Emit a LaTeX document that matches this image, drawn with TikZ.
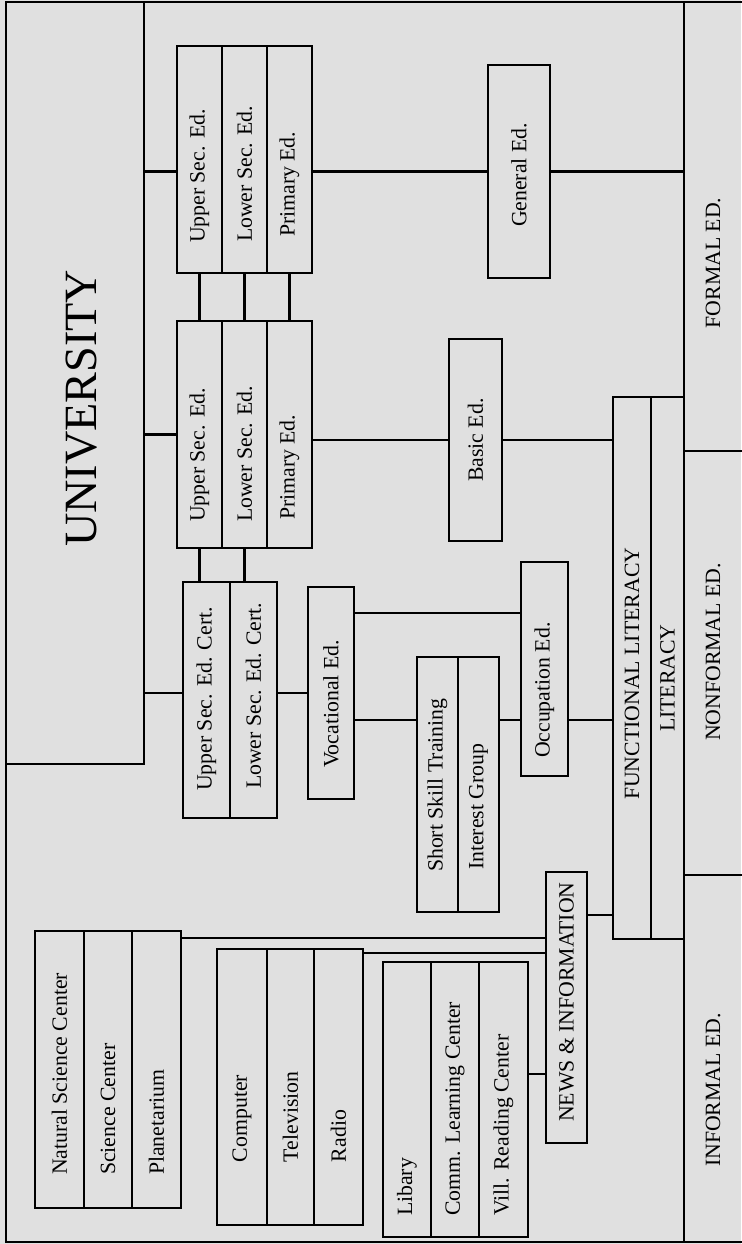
\documentclass[tikz,border=0pt]{standalone}
\usepackage{fontspec}
\setmainfont{Liberation Serif}
\usepackage{graphicx}
\definecolor{bg}{RGB}{224,224,224}
\newcommand{\rottext}[3]{\rotatebox{90}{\makebox[#1][l]{\hspace*{#2}#3}}}
\begin{document}
\begin{tikzpicture}[x=0.02cm, y=-0.02cm, line width=1.3pt,
  cell/.style={draw, fill=bg, inner sep=0pt, font=\fontsize{12.4}{14}\selectfont},
  tag/.style={inner sep=0pt, font=\fontsize{12.4}{14}\selectfont}]
  \useasboundingbox (0,0) rectangle (741,1244);
  \fill[bg] (0,0) rectangle (741,1244);
  \coordinate (ftl) at (6,2);
  \coordinate (fbr) at (745,1242);
  \coordinate (col) at (684,2);
  \draw (ftl) rectangle (fbr);
  \draw (col) -- (col |- fbr);
  \draw (col |- 0,451) -- (fbr |- 0,451);
  \draw (col |- 0,875) -- (fbr |- 0,875);

  % side labels
  \node[tag] (fe) at (713,263) {\rotatebox{90}{FORMAL ED.}};
  \node[tag] (ne) at (713,652) {\rotatebox{90}{NONFORMAL ED.}};
  \node[tag] (ie) at (713,1090) {\rotatebox{90}{INFORMAL ED.}};

  \node[cell, minimum width=2.76cm, minimum height=15.24cm] (uni) at (75,383) {\hspace*{0.28cm}\rottext{15.24cm}{4.34cm}{\fontsize{26.3}{30}\selectfont UNIVERSITY}};

  % formal school
  \node[cell, minimum width=0.9cm, minimum height=4.54cm] (fu) at (199.5,159.5) {\rottext{4.54cm}{0.6cm}{Upper Sec. Ed.}};
  \node[cell, minimum width=0.9cm, minimum height=4.54cm] (fl) at (244.5,159.5) {\rottext{4.54cm}{0.62cm}{Lower Sec. Ed.}};
  \node[cell, minimum width=0.9cm, minimum height=4.54cm] (fp) at (289.5,159.5) {\rottext{4.54cm}{0.72cm}{Primary Ed.}};
  \node[cell, minimum width=1.24cm, minimum height=4.26cm] (gen) at (519,171.5) {\rottext{4.26cm}{1.02cm}{General Ed.}};

  % nonformal school
  \node[cell, minimum width=0.9cm, minimum height=4.54cm] (nu) at (199.5,434.5) {\rottext{4.54cm}{0.52cm}{Upper Sec. Ed.}};
  \node[cell, minimum width=0.9cm, minimum height=4.54cm] (nl) at (244.5,434.5) {\rottext{4.54cm}{0.52cm}{Lower Sec. Ed.}};
  \node[cell, minimum width=0.9cm, minimum height=4.54cm] (np) at (289.5,434.5) {\rottext{4.54cm}{0.56cm}{Primary Ed.}};
  \node[cell, minimum width=1.06cm, minimum height=4.04cm] (basic) at (475.5,440) {\rottext{4.04cm}{1.18cm}{Basic Ed.}};

  \node[cell, minimum width=0.94cm, minimum height=4.72cm] (cu) at (206.5,700) {\rottext{4.72cm}{0.54cm}{Upper Sec. Ed. Cert.}};
  \node[cell, minimum width=0.94cm, minimum height=4.72cm] (cl) at (253.5,700) {\rottext{4.72cm}{0.58cm}{Lower Sec. Ed. Cert.}};
  \node[cell, minimum width=0.92cm, minimum height=4.24cm] (voc) at (331,693) {\rottext{4.24cm}{0.62cm}{Vocational Ed.}};
  \node[cell, minimum width=0.82cm, minimum height=5.1cm] (sst) at (437.5,784.5) {\rottext{5.1cm}{0.8cm}{Short Skill Training}};
  \node[cell, minimum width=0.82cm, minimum height=5.1cm] (ig) at (478.5,784.5) {\rottext{5.1cm}{0.84cm}{Interest Group}};
  \node[cell, minimum width=0.94cm, minimum height=4.28cm] (occ) at (544.5,669) {\rottext{4.28cm}{0.36cm}{Occupation Ed.}};

  \node[cell, minimum width=0.76cm, minimum height=10.84cm] (flit) at (632,668) {\rottext{10.84cm}{2.78cm}{FUNCTIONAL LITERACY}};
  \node[cell, minimum width=0.66cm, minimum height=10.84cm] (lit) at (667.5,668) {\rottext{10.84cm}{4.14cm}{LITERACY}};

  % informal
  \node[cell, minimum width=0.82cm, minimum height=5.42cm] (news) at (566.5,1007.5) {\rottext{5.42cm}{0.42cm}{NEWS \& INFORMATION}};
  \node[cell, minimum width=0.98cm, minimum height=5.54cm] (nsc) at (59.5,1069.5) {\rottext{5.54cm}{0.66cm}{Natural Science Center}};
  \node[cell, minimum width=0.96cm, minimum height=5.54cm] (sc) at (108,1069.5) {\rottext{5.54cm}{0.66cm}{Science Center}};
  \node[cell, minimum width=0.98cm, minimum height=5.54cm] (pl) at (156.5,1069.5) {\rottext{5.54cm}{0.66cm}{Planetarium}};
  \node[cell, minimum width=1.0cm, minimum height=5.52cm] (comp) at (242,1087) {\rottext{5.52cm}{1.26cm}{Computer}};
  \node[cell, minimum width=0.94cm, minimum height=5.52cm] (tv) at (290.5,1087) {\rottext{5.52cm}{1.26cm}{Television}};
  \node[cell, minimum width=0.98cm, minimum height=5.52cm] (radio) at (338.5,1087) {\rottext{5.52cm}{1.26cm}{Radio}};
  \node[cell, minimum width=0.96cm, minimum height=5.5cm] (lib) at (407,1099.5) {\rottext{5.5cm}{0.42cm}{Libary}};
  \node[cell, minimum width=0.96cm, minimum height=5.5cm] (clc) at (455,1099.5) {\rottext{5.5cm}{0.42cm}{Comm. Learning Center}};
  \node[cell, minimum width=0.98cm, minimum height=5.5cm] (vrc) at (503.5,1099.5) {\rottext{5.5cm}{0.42cm}{Vill. Reading Center}};

  % connectors
  \foreach \a/\b in {fu/nu, fl/nl, fp/np}{\draw (\a) -- (\b); }
  \foreach \a in {nu, nl}{\draw (\a.south) -- (\a.south |- cu.north); }
  \draw (uni.east |- gen.west) -- (fu.west |- gen.west);
  \draw (fp.east |- gen.west) -- (gen.west);
  \draw (gen.east) -- (col |- gen.east);
  \draw (uni.east |- nu.west) -- (nu.west);
  \draw (np.east |- basic.west) -- (basic.west);
  \draw (basic.east) -- (flit.west |- basic.east);
  \draw (uni.east |- voc.west) -- (cu.west |- voc.west);
  \draw (cl.east |- voc.west) -- (voc.west);
  \path (occ.north west) ++(0,52) coordinate (occin);
  \draw (voc.east |- occin) -- (occin);
  \path (sst.north west) ++(0,64) coordinate (sstin);
  \draw (voc.east |- sstin) -- (sstin);
  \draw (ig.east |- sstin) -- (occ.west |- sstin);
  \draw (occ.east |- sstin) -- (flit.west |- sstin);
  \path (news.north east) ++(0,44) coordinate (newsout);
  \draw (newsout) -- (flit.west |- newsout);
  \path (pl.north east) ++(0,8) coordinate (plout);
  \draw (plout) -- (news.west |- plout);
  \path (radio.north east) ++(0,5) coordinate (raout);
  \draw (raout) -- (news.west |- raout);
  \path (vrc.north east) ++(0,113) coordinate (vrout);
  \draw (vrout) -- (news.west |- vrout);
\end{tikzpicture}
\end{document}
